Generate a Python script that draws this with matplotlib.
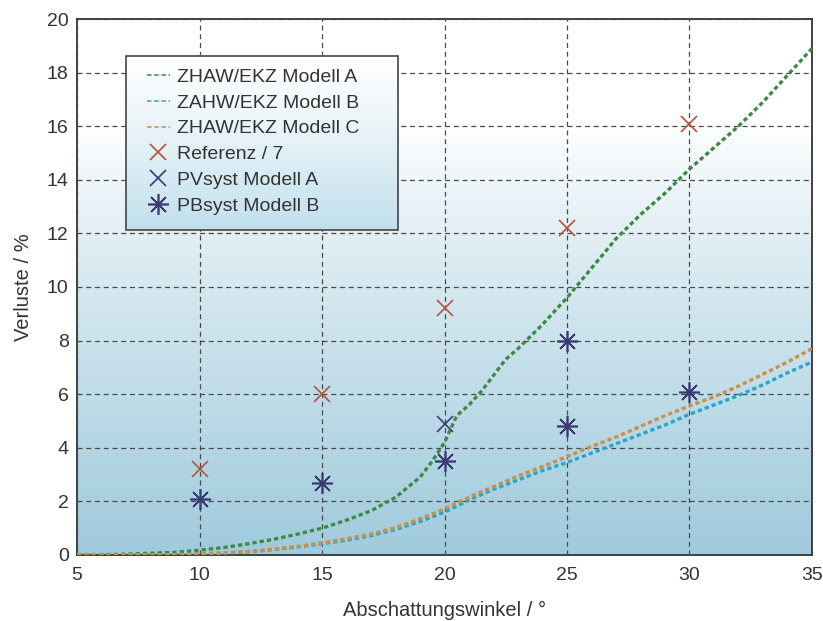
import numpy as np
import matplotlib
matplotlib.use("Agg")
import matplotlib.pyplot as plt
import matplotlib.colors as mcolors
from matplotlib.patches import Rectangle

plt.rcParams['font.family'] = ['Liberation Sans', 'DejaVu Sans']

# Modellkurven
winkel = [5, 7, 9, 10, 11, 12, 13, 14, 15, 16, 17, 18, 19, 19.5, 20, 20.5, 21, 21.5,
          22, 22.5, 23, 24, 25, 26, 27, 28, 29, 30, 31, 32, 33, 34, 35]
modell_a = [0, 0.03, 0.1, 0.18, 0.28, 0.42, 0.58, 0.78, 1.0, 1.3, 1.65, 2.15, 2.9, 3.5,
            4.2, 5.2, 5.6, 6.1, 6.7, 7.3, 7.7, 8.6, 9.6, 10.7, 11.8, 12.7, 13.5, 14.4,
            15.2, 16.0, 16.9, 17.9, 18.9]
modell_b = [0, 0.0, 0.01, 0.03, 0.07, 0.12, 0.2, 0.3, 0.42, 0.55, 0.72, 0.95, 1.25, 1.42,
            1.6, 1.82, 2.05, 2.25, 2.45, 2.62, 2.8, 3.15, 3.45, 3.8, 4.15, 4.5, 4.85, 5.25,
            5.6, 5.95, 6.35, 6.8, 7.2]
modell_c = [0, 0.0, 0.01, 0.04, 0.08, 0.13, 0.21, 0.32, 0.45, 0.6, 0.78, 1.02, 1.35, 1.53,
            1.72, 1.95, 2.15, 2.35, 2.55, 2.75, 2.95, 3.3, 3.67, 4.05, 4.4, 4.8, 5.2, 5.56,
            5.9, 6.3, 6.75, 7.2, 7.7]

# Messpunkte
ref_x = [10, 15, 20, 25, 30]
ref_y = [3.2, 6.0, 9.2, 12.2, 16.1]
pva_x = [20]
pva_y = [4.9]
pbb_x = [10, 15, 20, 25, 25, 30]
pbb_y = [2.1, 2.7, 3.5, 4.8, 8.0, 6.1]

fig = plt.figure(figsize=(8.23, 6.21), dpi=100)
ax = fig.add_axes([0.0936, 0.1063, 0.8930, 0.8631])

# Hintergrund-Verlauf (weiss oben, hellblau unten)
weiss = np.array(mcolors.to_rgb('#ffffff'))
blau = np.array(mcolors.to_rgb('#a0cbdd'))
yy = np.linspace(20, 0, 300)
t = np.clip((16 - yy) / 16, 0, 1) ** 0.85
grad = (weiss[None, :] * (1 - t[:, None]) + blau[None, :] * t[:, None])[:, None, :]
ax.imshow(grad, extent=[5, 35, 0, 20], aspect='auto', zorder=0, interpolation='bilinear')

ls = (0, (1.3, 0.9))
ax.plot(winkel, modell_a, color='#3d8a46', lw=2.4, ls=ls, label='ZHAW/EKZ Modell A', zorder=3)
ax.plot(winkel, modell_b, color='#2aa6c8', lw=2.4, ls=ls, label='ZAHW/EKZ Modell B', zorder=3)
ax.plot(winkel, modell_c, color='#c8914a', lw=2.4, ls=ls, label='ZHAW/EKZ Modell C', zorder=3)
ax.plot(ref_x, ref_y, ls='none', marker='x', ms=11, mew=1.2, color='#b5523e',
        label='Referenz / 7', zorder=4)
ax.plot(pva_x, pva_y, ls='none', marker='x', ms=11, mew=1.2, color='#3b3b72',
        label='PVsyst Modell A', zorder=4)
ax.plot(pbb_x, pbb_y, ls='none', marker=(8, 2, 0), ms=15, mew=1.2, color='#3b3b72',
        label='PBsyst Modell B', zorder=4)

ax.set_xlim(5, 35)
ax.set_ylim(0, 20)
ax.set_xticks(range(5, 36, 5))
ax.set_yticks(range(0, 21, 2))
ax.grid(True, color='#4a4a4a', ls=(0, (4, 3)), lw=0.9)
ax.set_axisbelow(False)
for g in ax.get_xgridlines() + ax.get_ygridlines():
    g.set_zorder(1)
ax.tick_params(axis='x', length=0, labelsize=14, colors='#333333', pad=9)
ax.tick_params(axis='y', length=0, labelsize=14, colors='#333333', pad=6)
for s in ax.spines.values():
    s.set_color('#333333')
    s.set_linewidth(1.3)

ax.set_xlabel('Abschattungswinkel / °', fontsize=14.5, color='#333333', labelpad=12)
ax.set_ylabel('Verluste / %', fontsize=14.5, color='#333333', labelpad=10)

# Legendenkasten mit eigenem Verlauf
bx0, bx1, by0, by1 = 0.0667, 0.4367, 0.606, 0.931
lg = np.linspace(0, 1, 200) ** 1.2
lc = np.array(mcolors.to_rgb('#c0e0ec'))
lgrad = (weiss[None, :] * (1 - lg[:, None]) + lc[None, :] * lg[:, None])[:, None, :]
ax.imshow(lgrad, extent=[bx0, bx1, by0, by1], transform=ax.transAxes,
          aspect='auto', zorder=4.5, interpolation='bilinear')
ax.add_patch(Rectangle((bx0, by0), bx1 - bx0, by1 - by0, transform=ax.transAxes,
                       fill=False, edgecolor='#444444', lw=1.2, zorder=4.6))

leg = ax.legend(loc='upper left', bbox_to_anchor=(0.0952, 0.908), borderaxespad=0,
                fontsize=14, handlelength=1.18, handletextpad=0.36, labelspacing=0.42,
                borderpad=0, frameon=False)
leg.set_zorder(5)
for h in leg.legend_handles[:3]:
    h.set_linewidth(1.1)
    h.set_linestyle((0, (3, 1.7)))
for txt in leg.get_texts():
    txt.set_color('#333333')

ax.set_xlim(5, 35)
ax.set_ylim(0, 20)

fig.savefig('out.png', dpi=100)
